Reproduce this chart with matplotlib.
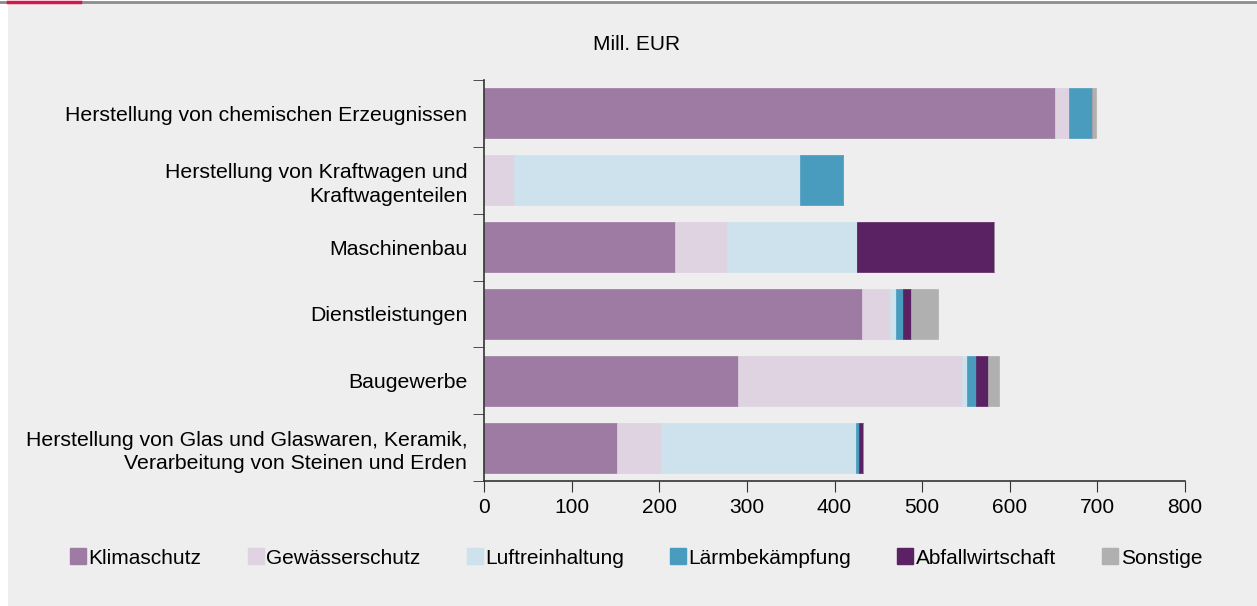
import matplotlib.pyplot as plt
import numpy as np
from matplotlib.patches import Rectangle
from matplotlib.lines import Line2D

plt.rcParams['font.family'] = ['Liberation Sans', 'DejaVu Sans']

# data (Mill. EUR)
categories = [
    'Herstellung von chemischen Erzeugnissen',
    'Herstellung von Kraftwagen und\nKraftwagenteilen',
    'Maschinenbau',
    'Dienstleistungen',
    'Baugewerbe',
    'Herstellung von Glas und Glaswaren, Keramik,\nVerarbeitung von Steinen und Erden',
]
klimaschutz = [652, 0, 218, 431, 290, 152]
gewaesserschutz = [16, 34, 59, 32, 256, 50]
luftreinhaltung = [0, 327, 149, 7, 5, 222]
laermbekaempfung = [26, 49, 0, 8, 11, 4]
abfallwirtschaft = [0, 0, 156, 9, 13, 5]
sonstige = [4, 0, 0, 31, 13, 0]

series = ['Klimaschutz', 'Gewässerschutz', 'Luftreinhaltung',
          'Lärmbekämpfung', 'Abfallwirtschaft', 'Sonstige']
values = [klimaschutz, gewaesserschutz, luftreinhaltung,
          laermbekaempfung, abfallwirtschaft, sonstige]
colors = ['#9e7ba3', '#dfd3e2', '#cde2ec', '#4a9cbf', '#5a2262', '#b0b0b0']
bg = '#edeeed'

fig = plt.figure(figsize=(12.57, 6.06), dpi=100, facecolor='white')
# background panel and top rule
fig.patches.append(Rectangle((8/1257, 0), 1, 1 - 4/606, transform=fig.transFigure,
                             facecolor=bg, edgecolor='none', zorder=-1))
fig.lines.append(Line2D([0, 1], [1 - 1.5/606] * 2, transform=fig.transFigure,
                        color='#8c8c8c', lw=2))
fig.lines.append(Line2D([8/1257, 80/1257], [1 - 1.5/606] * 2, transform=fig.transFigure,
                        color='#d4174b', lw=2.5))

ax = fig.add_axes([484/1257, 1 - 481/606, 701/1257, 401/606])
ax.set_facecolor(bg)

y = np.arange(len(categories))
left = np.zeros(len(categories))
for name, vals, c in zip(series, values, colors):
    ax.barh(y, vals, left=left, height=0.75, color=c, label=name,
            edgecolor=c, linewidth=0.5)
    left += np.array(vals)

ax.set_ylim(len(categories) - 0.5, -0.5)
ax.set_xlim(0, 800)
ax.set_xticks(range(0, 801, 100))
ax.set_yticks(y)
ax.set_yticklabels(categories, fontsize=15.3, linespacing=1.3)
ax.set_yticks(np.arange(-0.5, len(categories)), minor=True)
ax.tick_params(axis='y', which='major', length=0, pad=12)
ax.tick_params(axis='y', which='minor', length=8, color='#333333')
ax.tick_params(axis='x', length=8, color='#333333', labelsize=15, pad=4)
for lab in ax.get_yticklabels():
    lab.set_horizontalalignment('right')
for s in ['top', 'right']:
    ax.spines[s].set_visible(False)
for s in ['left', 'bottom']:
    ax.spines[s].set_color('#333333')
    ax.spines[s].set_linewidth(1.2)

fig.text(637/1257, 1 - 45/606, 'Mill. EUR', fontsize=15, ha='center', va='center')

proxies = [Line2D([], [], marker='s', linestyle='none', markersize=11,
                  markerfacecolor=c, markeredgecolor=c) for c in colors]
fig.legend(proxies, series, loc='center', bbox_to_anchor=(636/1257, 1 - 558/606),
           ncol=6, frameon=False, fontsize=15, handlelength=0.8,
           handletextpad=0.1, columnspacing=2.2)

plt.savefig('out.png', dpi=100, facecolor=fig.get_facecolor())
